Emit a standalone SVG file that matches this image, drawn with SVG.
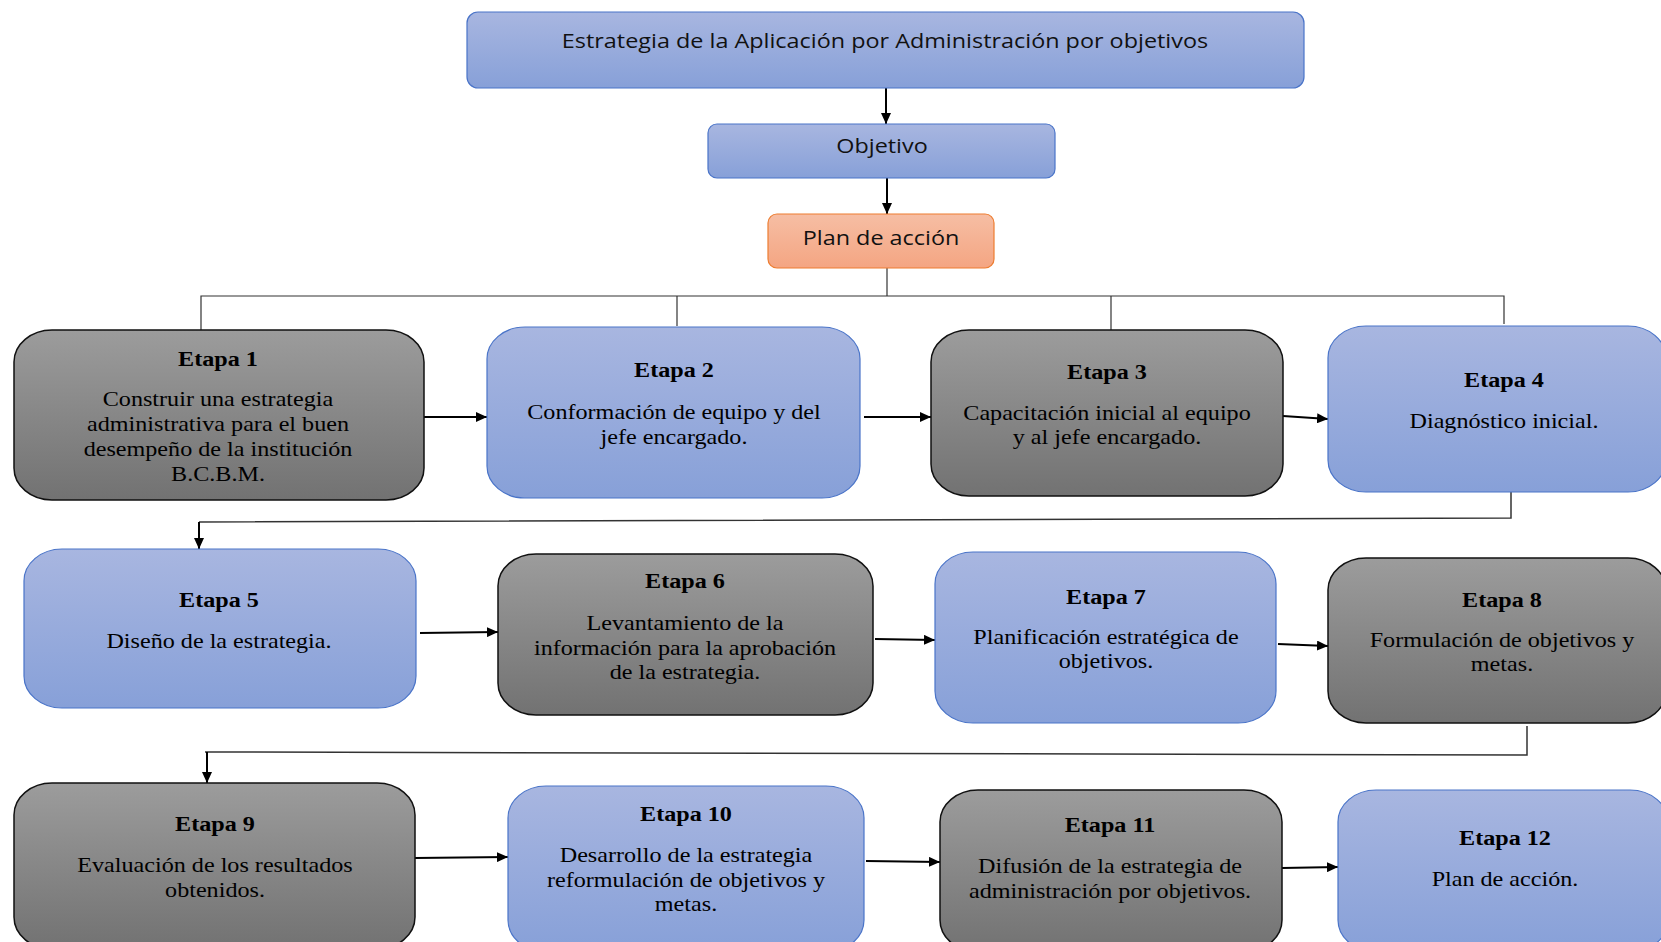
<svg xmlns="http://www.w3.org/2000/svg" width="1661" height="942" viewBox="0 0 1661 942">
<defs>
<linearGradient id="gBlue" x1="0" y1="0" x2="0" y2="1"><stop offset="0" stop-color="#A8B6E0"/><stop offset="1" stop-color="#87A0D8"/></linearGradient>
<linearGradient id="gGray" x1="0" y1="0" x2="0" y2="1"><stop offset="0" stop-color="#9C9C9C"/><stop offset="1" stop-color="#727272"/></linearGradient>
<linearGradient id="gOrange" x1="0" y1="0" x2="0" y2="1"><stop offset="0" stop-color="#F6BEA4"/><stop offset="1" stop-color="#F4A582"/></linearGradient>
<marker id="arr" markerUnits="userSpaceOnUse" markerWidth="11" markerHeight="10" refX="11" refY="5" orient="auto"><path d="M0,0 L11,5 L0,10 z" fill="#000"/></marker>
<style>
.blue{fill:url(#gBlue);stroke:#4A74C8;stroke-width:1.2}
.gray{fill:url(#gGray);stroke:#111;stroke-width:1.5}
.orange{fill:url(#gOrange);stroke:#ED7D31;stroke-width:1.2}
.sans{font-family:"Open Sans","Noto Sans",sans-serif;font-size:20px;fill:#111;text-anchor:middle}
.t{font-family:"Liberation Serif","Times New Roman",serif;font-size:21px;font-weight:bold;fill:#000;text-anchor:middle}
.b{font-family:"Liberation Serif","Times New Roman",serif;font-size:21px;fill:#000;text-anchor:middle}
.arrow{stroke:#000;stroke-width:2;fill:none;marker-end:url(#arr)}
.tree{stroke:#333;stroke-width:1.2;fill:none}
.loop{stroke:#333;stroke-width:1.5;fill:none}
</style>
</defs>

<g id="connectors">
<line class="arrow" x1="886" y1="88" x2="886" y2="124"/>
<line class="arrow" x1="887" y1="178" x2="887" y2="214"/>
<polyline class="tree" points="887,268 887,296"/>
<polyline class="tree" points="201,330 201,296 1504,296 1504,324"/>
<line class="tree" x1="677" y1="296" x2="677" y2="326"/>
<line class="tree" x1="1111" y1="296" x2="1111" y2="330"/>
<line class="arrow" x1="424" y1="417" x2="487" y2="417"/>
<line class="arrow" x1="864" y1="417" x2="931" y2="417"/>
<line class="arrow" x1="1283" y1="416" x2="1328" y2="419"/>
<polyline class="loop" points="1511,492 1511,518 199,522" />
<line class="arrow" x1="199" y1="522" x2="199" y2="549"/>
<line class="arrow" x1="420" y1="633" x2="498" y2="632"/>
<line class="arrow" x1="875" y1="639" x2="935" y2="640"/>
<line class="arrow" x1="1278" y1="644" x2="1328" y2="646"/>
<polyline class="loop" points="1527,726 1527,755 205,752" />
<line class="arrow" x1="207" y1="752" x2="207" y2="783"/>
<line class="arrow" x1="415" y1="858" x2="508" y2="857"/>
<line class="arrow" x1="866" y1="861" x2="940" y2="862"/>
<line class="arrow" x1="1282" y1="868" x2="1338" y2="867"/>
</g>

<g id="estrategia">
<rect class="blue" x="467" y="12" width="837" height="76" rx="11"/>
<text class="sans" transform="translate(885 48) scale(1.17 1)" x="0" y="0">Estrategia de la Aplicación por Administración por objetivos</text>
</g>
<g id="objetivo">
<rect class="blue" x="708" y="124" width="347" height="54" rx="9"/>
<text class="sans" transform="translate(882 153) scale(1.17 1)" x="0" y="0">Objetivo</text>
</g>
<g id="plan">
<rect class="orange" x="768" y="214" width="226" height="54" rx="9"/>
<text class="sans" transform="translate(881 245) scale(1.17 1)" x="0" y="0">Plan de acción</text>
</g>

<g id="etapa1">
<rect class="gray" x="14" y="330" width="410" height="170" rx="38" ry="32"/>
<g transform="translate(218 0) scale(1.15 1)">
<text class="t" x="0" y="366">Etapa 1</text>
<text class="b" x="0" y="406">Construir una estrategia</text>
<text class="b" x="0" y="431">administrativa para el buen</text>
<text class="b" x="0" y="456">desempeño de la institución</text>
<text class="b" x="0" y="481">B.C.B.M.</text>
</g>
</g>
<g id="etapa2">
<rect class="blue" x="487" y="327" width="373" height="171" rx="38" ry="32"/>
<g transform="translate(674 0) scale(1.15 1)">
<text class="t" x="0" y="377">Etapa 2</text>
<text class="b" x="0" y="419">Conformación de equipo y del</text>
<text class="b" x="0" y="444">jefe encargado.</text>
</g>
</g>
<g id="etapa3">
<rect class="gray" x="931" y="330" width="352" height="166" rx="38" ry="32"/>
<g transform="translate(1107 0) scale(1.15 1)">
<text class="t" x="0" y="379">Etapa 3</text>
<text class="b" x="0" y="420">Capacitación inicial al equipo</text>
<text class="b" x="0" y="444">y al jefe encargado.</text>
</g>
</g>
<g id="etapa4">
<rect class="blue" x="1328" y="326" width="338" height="166" rx="38" ry="32"/>
<g transform="translate(1504 0) scale(1.15 1)">
<text class="t" x="0" y="387">Etapa 4</text>
<text class="b" x="0" y="428">Diagnóstico inicial.</text>
</g>
</g>

<g id="etapa5">
<rect class="blue" x="24" y="549" width="392" height="159" rx="38" ry="32"/>
<g transform="translate(219 0) scale(1.15 1)">
<text class="t" x="0" y="607">Etapa 5</text>
<text class="b" x="0" y="648">Diseño de la estrategia.</text>
</g>
</g>
<g id="etapa6">
<rect class="gray" x="498" y="554" width="375" height="161" rx="38" ry="32"/>
<g transform="translate(685 0) scale(1.15 1)">
<text class="t" x="0" y="588">Etapa 6</text>
<text class="b" x="0" y="630">Levantamiento de la</text>
<text class="b" x="0" y="655">información para la aprobación</text>
<text class="b" x="0" y="679">de la estrategia.</text>
</g>
</g>
<g id="etapa7">
<rect class="blue" x="935" y="552" width="341" height="171" rx="38" ry="32"/>
<g transform="translate(1106 0) scale(1.15 1)">
<text class="t" x="0" y="604">Etapa 7</text>
<text class="b" x="0" y="644">Planificación estratégica de</text>
<text class="b" x="0" y="668">objetivos.</text>
</g>
</g>
<g id="etapa8">
<rect class="gray" x="1328" y="558" width="338" height="165" rx="38" ry="32"/>
<g transform="translate(1502 0) scale(1.15 1)">
<text class="t" x="0" y="607">Etapa 8</text>
<text class="b" x="0" y="647">Formulación de objetivos y</text>
<text class="b" x="0" y="671">metas.</text>
</g>
</g>

<g id="etapa9">
<rect class="gray" x="14" y="783" width="401" height="166" rx="38" ry="32"/>
<g transform="translate(215 0) scale(1.15 1)">
<text class="t" x="0" y="831">Etapa 9</text>
<text class="b" x="0" y="872">Evaluación de los resultados</text>
<text class="b" x="0" y="897">obtenidos.</text>
</g>
</g>
<g id="etapa10">
<rect class="blue" x="508" y="786" width="356" height="166" rx="38" ry="32"/>
<g transform="translate(686 0) scale(1.15 1)">
<text class="t" x="0" y="821">Etapa 10</text>
<text class="b" x="0" y="862">Desarrollo de la estrategia</text>
<text class="b" x="0" y="887">reformulación de objetivos y</text>
<text class="b" x="0" y="911">metas.</text>
</g>
</g>
<g id="etapa11">
<rect class="gray" x="940" y="790" width="342" height="162" rx="38" ry="32"/>
<g transform="translate(1110 0) scale(1.15 1)">
<text class="t" x="0" y="832">Etapa 11</text>
<text class="b" x="0" y="873">Difusión de la estrategia de</text>
<text class="b" x="0" y="898">administración por objetivos.</text>
</g>
</g>
<g id="etapa12">
<rect class="blue" x="1338" y="790" width="330" height="162" rx="38" ry="32"/>
<g transform="translate(1505 0) scale(1.15 1)">
<text class="t" x="0" y="845">Etapa 12</text>
<text class="b" x="0" y="886">Plan de acción.</text>
</g>
</g>
</svg>
